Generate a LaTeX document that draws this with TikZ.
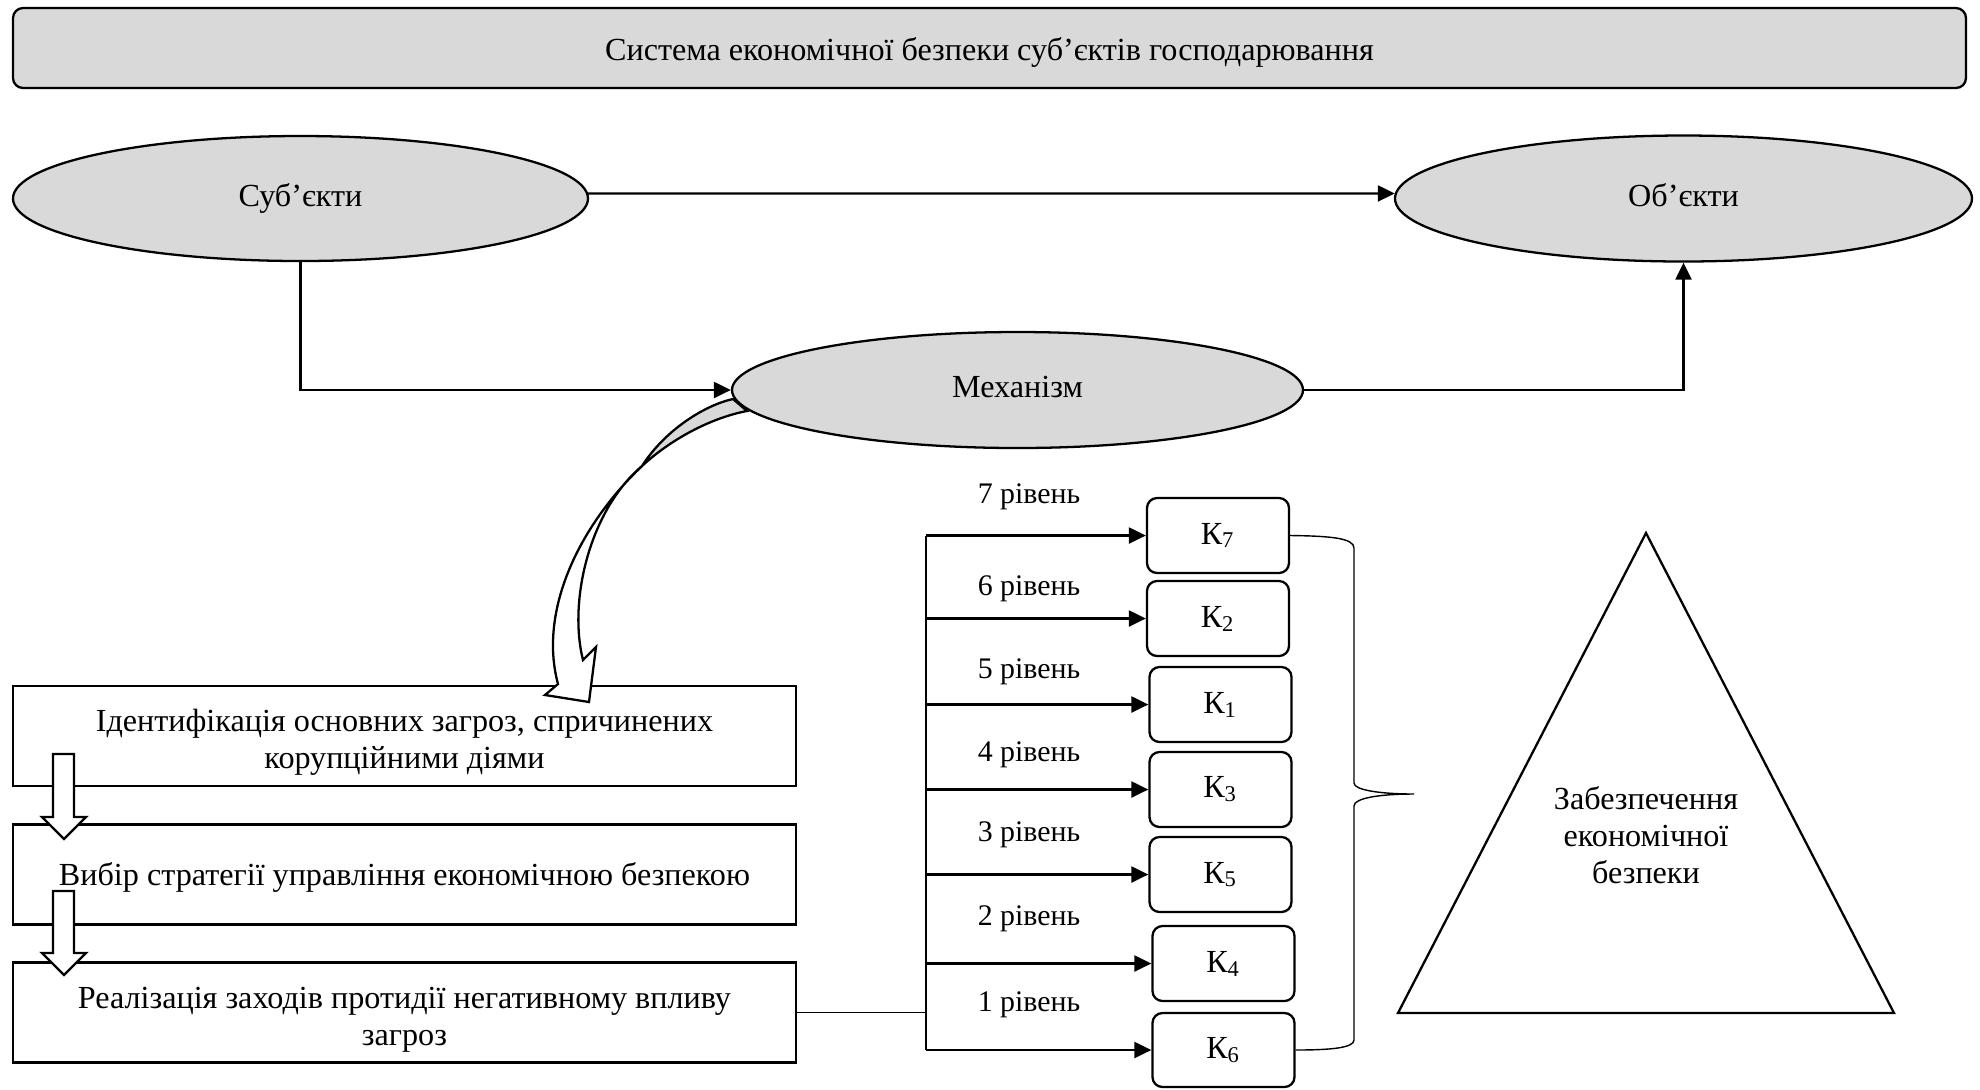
\documentclass[tikz,border=0pt]{standalone}
\usepackage{fontspec}
\setmainfont{Liberation Serif}
\usetikzlibrary{shapes.geometric,arrows.meta,positioning}
\definecolor{ovalgray}{HTML}{D9D9D9}

\begin{document}
\begin{tikzpicture}
  [x=0.1mm,y=-0.1mm,
   font=\fontsize{9.15pt}{10.6pt}\selectfont,
   titleN/.style={draw,rounded corners=1mm,fill=ovalgray,minimum width=195.3mm,minimum height=8mm,
     text height=3.1mm,text depth=0.6mm},
   ovalN/.style={ellipse,draw,fill=ovalgray,inner sep=0pt,text height=2.2mm,text depth=0.7mm},
   stageN/.style={draw,minimum width=78.3mm,minimum height=10mm},
   levelN/.style={draw,rounded corners=1mm,minimum width=14.2mm,minimum height=7.5mm},
   flow/.style={-{Triangle[length=1.7mm,width=1.6mm]}},
   line width=0.65pt]

  \useasboundingbox (0,0) rectangle (1980,1089);

  \node[titleN] (sys) at (989.5,48) {Система економічної безпеки суб’єктів господарювання};

  \node[ovalN,minimum width=57.5mm,minimum height=12.5mm] (subj) at (300.5,198.5) {Суб’єкти};
  \node[ovalN,minimum width=57.7mm,minimum height=12.6mm] (obj)  at (1683.5,198.5) {Об’єкти};
  \node[ovalN,minimum width=57.1mm,minimum height=11.6mm] (mech) at (1017.5,390) {Механізм};

  \draw[flow] (subj.1) -- (obj.179);
  \draw[flow] (subj.south) |- (mech.west);
  \draw[flow] (mech.east) -| (obj.south);

  % stages
  \node[stageN] (st1) at (404.5,736)    {};
  \node[stageN] (st2) at (404.5,874.5)  {};
  \node[stageN] (st3) at (404.5,1012.5) {};
  \node[align=center] (st1t) at ([yshift=-0.6mm]st1.center)
    {Ідентифікація основних загроз, спричинених\\корупційними діями};
  \node (st2t) at ([yshift=-0.25mm]st2.center) {Вибір стратегії управління економічною безпекою};
  \node[align=center] (st3t) at ([yshift=-0.7mm]st3.center)
    {Реалізація заходів протидії негативному впливу\\загроз};

  \foreach \top/\base/\tip in {754/817/839, 891/953/975}
    \filldraw[fill=white] (53,\top) -- (74,\top) -- (74,\base) -- (86,\base) -- (64,\tip)
      -- (42,\base) -- (53,\base) -- cycle;

  % twisted block arrow from the mechanism
  \filldraw[fill=ovalgray] (733,399) .. controls (705,405) and (665,430) .. (642,466)
    .. controls (670,440) and (710,418) .. (747,411) -- cycle;
  \filldraw[fill=white] (642,466) .. controls (580,525) and (538,610) .. (558,684)
    -- (545,695) -- (589,702) -- (596,647) -- (583,660)
    .. controls (568,600) and (590,510) .. (642,466) -- cycle;

  % levels
  \coordinate (bus) at (926,0);
  \node[levelN] (k7) at (1218,535.5)   {К\textsubscript{7}};
  \node[levelN] (k2) at (1218,618.5)   {К\textsubscript{2}};
  \node[levelN] (k1) at (1220.5,704.5) {К\textsubscript{1}};
  \node[levelN] (k3) at (1220.5,789.5) {К\textsubscript{3}};
  \node[levelN] (k5) at (1220.5,874.5) {К\textsubscript{5}};
  \node[levelN] (k4) at (1223.5,963.5) {К\textsubscript{4}};
  \node[levelN,minimum height=7.4mm] (k6) at (1223.5,1050) {К\textsubscript{6}};

  \draw (bus |- k7.west) -- (bus |- k6.west);
  \foreach \k/\lev/\ly in {k7/7/497, k2/6/589, k1/5/672, k3/4/755, k5/3/835, k4/2/919, k6/1/1005} {
    \draw[flow] (bus |- \k.west) -- (\k.west);
    \node[font=\fontsize{8.5pt}{10pt}\selectfont] (lab\lev) at (1029,\ly) {\lev{} рівень};
  }
  \draw[line width=0.4pt] (st3.east) -- (bus |- st3.east);

  % brace and goal
  \draw[line width=0.4pt] (k7.east) .. controls (1330,536) and (1354,538) .. (1354,548)
    -- (1354,783) .. controls (1354,790) and (1380,794) .. (1414,794)
    .. controls (1380,794) and (1354,798) .. (1354,806)
    -- (1354,1040) .. controls (1354,1048) and (1330,1050) .. (k6.east);

  \coordinate (apex) at (1646,533);
  \coordinate (base_l) at (1398,1013);
  \coordinate (base_r) at (1894,1013);
  \draw (apex) -- (base_r) -- (base_l) -- cycle;
  \node[align=center] (goal) at (1646,835) {Забезпечення\\економічної\\безпеки};
\end{tikzpicture}
\end{document}
